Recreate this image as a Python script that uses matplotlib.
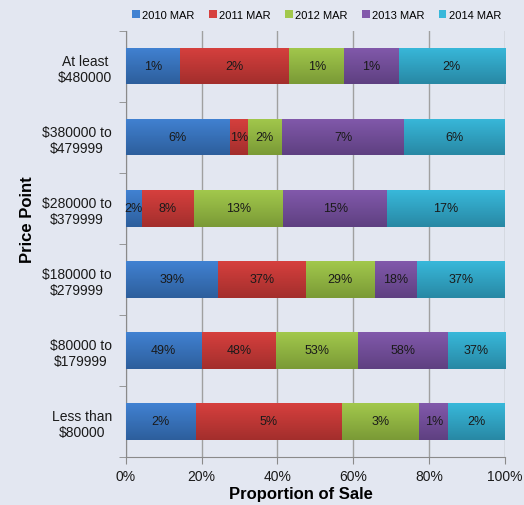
import numpy as np
import matplotlib
matplotlib.use("Agg")
import matplotlib.pyplot as plt
from matplotlib.colors import LinearSegmentedColormap

plt.rcParams['font.family'] = ['Liberation Sans', 'DejaVu Sans']

categories = ['At least\n$480000', '$380000 to\n$479999', '$280000 to\n$379999',
              '$180000 to\n$279999', '$80000 to\n$179999', 'Less than\n$80000']
series = ['2010 MAR', '2011 MAR', '2012 MAR', '2013 MAR', '2014 MAR']

# percent of sales per year, row by row (top to bottom)
y2010 = [1.0, 6.0, 2.3, 39, 49, 2.4]
y2011 = [2.0, 1.0, 7.5, 37, 48, 5.0]
y2012 = [1.0, 2.0, 12.8, 29, 53, 2.65]
y2013 = [1.0, 7.0, 15.0, 18, 58, 1.0]
y2014 = [1.95, 5.8, 16.9, 37, 37, 1.94]

# (top, bottom) shade for each series
colors = [('#4182d2', '#2d5e9c'), ('#d6403e', '#a32e2c'), ('#a2c84c', '#7a9a36'),
          ('#8259ab', '#5e4081'), ('#38b8da', '#2888a4')]
bg = '#e3e7f1'

data = np.array([y2010, y2011, y2012, y2013, y2014], dtype=float)
share = data / data.sum(axis=0) * 100

fig = plt.figure(figsize=(5.24, 5.06), dpi=100, facecolor=bg)
ax = fig.add_axes([0.24, 0.095, 0.7237, 0.842])
ax.set_facecolor(bg)

ypos = np.arange(len(categories))
left = np.zeros(len(categories))
grad = np.linspace(0, 1, 64).reshape(-1, 1)
for i, name in enumerate(series):
    top, bot = colors[i]
    bars = ax.barh(ypos, share[i], left=left, height=0.51, color=top,
                   label=name, zorder=3, linewidth=0)
    cmap = LinearSegmentedColormap.from_list('g%d' % i, [top, bot])
    for j, b in enumerate(bars):
        x0, y0 = b.get_x(), b.get_y()
        im = ax.imshow(grad, extent=[x0, x0 + b.get_width(), y0, y0 + b.get_height()],
                       aspect='auto', cmap=cmap, origin='lower', zorder=4)
        im.set_clip_path(b)
        ax.text(x0 + b.get_width() / 2, ypos[j], '%.0f%%' % data[i, j],
                ha='center', va='center', fontsize=9, color='#1a1a1a', zorder=5)
    left += share[i]

ax.set_xlim(0, 100)
ax.set_ylim(len(categories) - 0.5, -0.5)
ax.set_xticks(np.arange(0, 101, 20))
ax.set_xticklabels(['%d%%' % v for v in range(0, 101, 20)], fontsize=10, color='#1a1a1a')
ax.set_yticks(ypos)
ax.set_yticklabels(categories, fontsize=10, color='#1a1a1a', multialignment='center')
ax.tick_params(axis='y', length=0, pad=10)
ax.set_yticks(np.arange(-0.5, len(categories)), minor=True)
ax.tick_params(axis='y', which='minor', length=5, color='#8a8a8a')
ax.tick_params(axis='x', length=5, color='#8a8a8a', pad=4)

ax.grid(axis='x', color='#a0a0a0', linewidth=1, zorder=1)
for s in ['top', 'right']:
    ax.spines[s].set_visible(False)
for s in ['left', 'bottom']:
    ax.spines[s].set_color('#8a8a8a')

ax.set_xlabel('Proportion of Sale', fontsize=12, fontweight='bold', va='top')
ax.xaxis.set_label_coords(0.461, -0.068)
ax.set_ylabel('Price Point', fontsize=12, fontweight='bold', va='center')
ax.yaxis.set_label_coords(-0.258, 0.56)

handles, labels = ax.get_legend_handles_labels()
fig.legend(handles, labels, loc='center', bbox_to_anchor=(0.604, 0.968), ncol=5,
           frameon=False, fontsize=8, handlelength=0.7, handleheight=0.7,
           handletextpad=0.2, columnspacing=1.3)

fig.savefig('out.png', dpi=100, facecolor=bg)
